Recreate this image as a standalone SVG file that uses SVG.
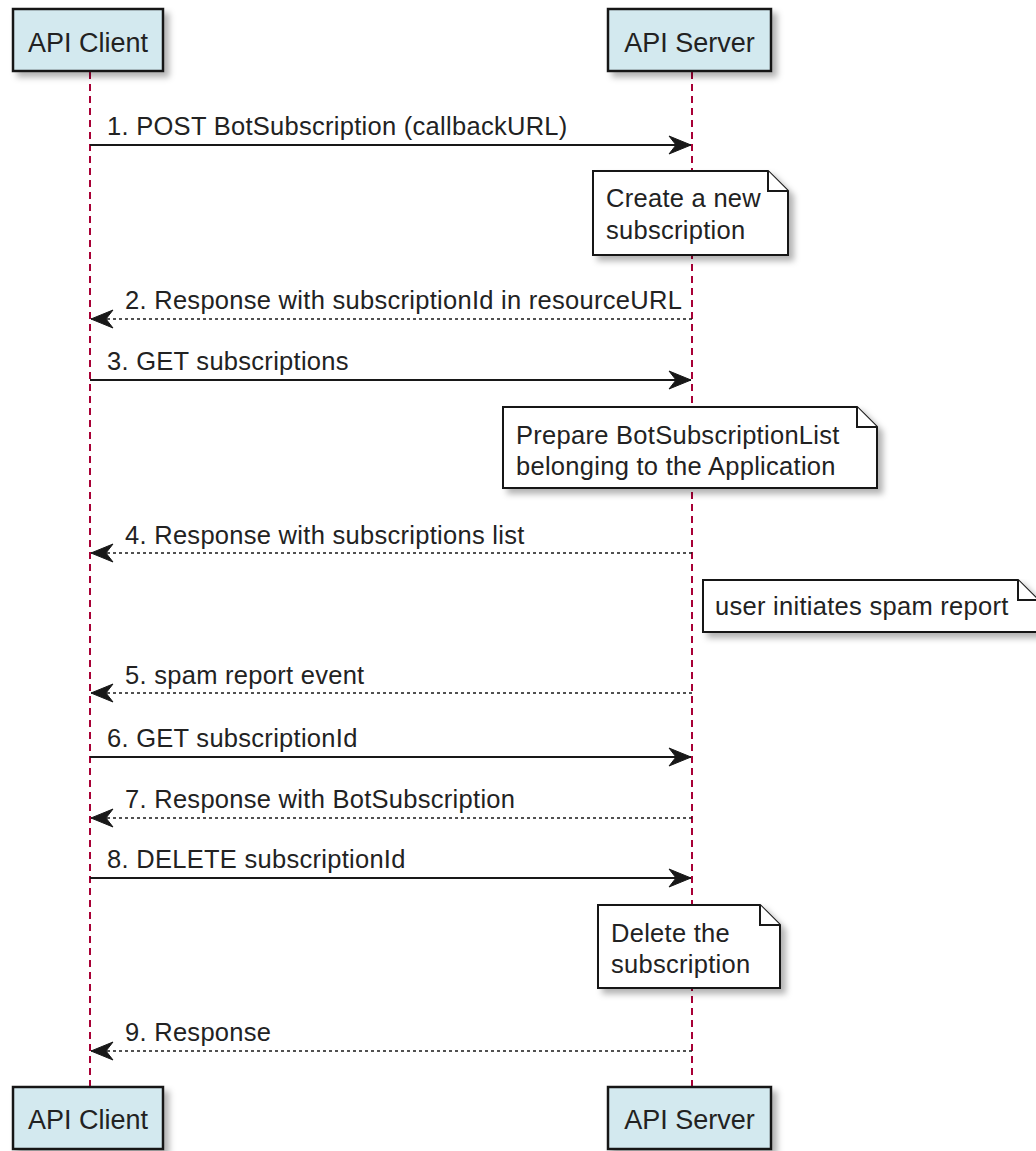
<svg xmlns="http://www.w3.org/2000/svg" width="1036" height="1151" viewBox="0 0 1036 1151">
<defs>
<filter id="sh" x="-10%" y="-10%" width="130%" height="140%">
<feGaussianBlur in="SourceAlpha" stdDeviation="3"/>
<feOffset dx="5" dy="5" result="b"/>
<feFlood flood-color="#000" flood-opacity="0.3"/>
<feComposite in2="b" operator="in"/>
<feMerge><feMergeNode/><feMergeNode in="SourceGraphic"/></feMerge>
</filter>
<marker id="ah" markerWidth="24" markerHeight="20" viewBox="0 0 24 20" refX="23" refY="10" orient="auto" markerUnits="userSpaceOnUse">
<polygon points="1,1 23,10 1,19 8,10" fill="#181818" stroke="#181818" stroke-width="1"/>
</marker>
</defs>
<style>
.part{fill:#D3E9EF;stroke:#181818;stroke-width:2.5}
.ptxt{font-family:"Liberation Sans",Arial,sans-serif;font-size:27px;fill:#222;text-anchor:middle}
.life{stroke:#A80036;stroke-width:2;stroke-dasharray:7,5;fill:none}
.msg{stroke:#181818;stroke-width:2;fill:none}
.ret{stroke:#181818;stroke-width:1.6;stroke-dasharray:3,3;fill:none}
.txt{font-family:"Liberation Sans",Arial,sans-serif;font-size:25.5px;letter-spacing:0.28px;fill:#222}
.note{fill:#FFFFFF;stroke:#181818;stroke-width:2}
</style>
<rect width="1036" height="1151" fill="#FFFFFF"/>
<g id="lifelines">
<line class="life" x1="90" y1="72" x2="90" y2="1087"/>
<line class="life" x1="692" y1="72" x2="692" y2="1087"/>
</g>
<g id="participant-client-top">
<rect class="part" x="13" y="9" width="150" height="62" filter="url(#sh)"/>
<text class="ptxt" x="88" y="52">API Client</text>
</g>
<g id="participant-server-top">
<rect class="part" x="608" y="9" width="163" height="62" filter="url(#sh)"/>
<text class="ptxt" x="689.5" y="52">API Server</text>
</g>
<g id="participant-client-bottom">
<rect class="part" x="13" y="1087" width="150" height="62" filter="url(#sh)"/>
<text class="ptxt" x="88" y="1129">API Client</text>
</g>
<g id="participant-server-bottom">
<rect class="part" x="608" y="1087" width="163" height="62" filter="url(#sh)"/>
<text class="ptxt" x="689.5" y="1129">API Server</text>
</g>
<g id="connectors">
<line class="msg" x1="90" y1="145" x2="691" y2="145" marker-end="url(#ah)"/>
<text class="txt" x="107" y="135">1. POST BotSubscription (callbackURL)</text>
<line class="ret" x1="692" y1="319" x2="91" y2="319" marker-end="url(#ah)"/>
<text class="txt" x="125" y="309">2. Response with subscriptionId in resourceURL</text>
<line class="msg" x1="90" y1="380" x2="691" y2="380" marker-end="url(#ah)"/>
<text class="txt" x="107" y="370">3. GET subscriptions</text>
<line class="ret" x1="692" y1="553" x2="91" y2="553" marker-end="url(#ah)"/>
<text class="txt" x="125" y="544">4. Response with subscriptions list</text>
<line class="ret" x1="692" y1="693" x2="91" y2="693" marker-end="url(#ah)"/>
<text class="txt" x="125" y="684">5. spam report event</text>
<line class="msg" x1="90" y1="757" x2="691" y2="757" marker-end="url(#ah)"/>
<text class="txt" x="107" y="747">6. GET subscriptionId</text>
<line class="ret" x1="692" y1="818" x2="91" y2="818" marker-end="url(#ah)"/>
<text class="txt" x="125" y="808">7. Response with BotSubscription</text>
<line class="msg" x1="90" y1="878" x2="691" y2="878" marker-end="url(#ah)"/>
<text class="txt" x="107" y="868">8. DELETE subscriptionId</text>
<line class="ret" x1="692" y1="1051" x2="91" y2="1051" marker-end="url(#ah)"/>
<text class="txt" x="125" y="1041">9. Response</text>
</g>
<g id="note-create">
<path class="note" filter="url(#sh)" d="M593,171 L768,171 L788,191 L788,255 L593,255 Z"/>
<path class="note" d="M768,171 L768,191 L788,191"/>
<text class="txt" x="606" y="207">Create a new</text>
<text class="txt" x="606" y="239">subscription</text>
</g>
<g id="note-prepare">
<path class="note" filter="url(#sh)" d="M503,407 L857,407 L877,427 L877,488 L503,488 Z"/>
<path class="note" d="M857,407 L857,427 L877,427"/>
<text class="txt" x="516" y="444">Prepare BotSubscriptionList</text>
<text class="txt" x="516" y="475">belonging to the Application</text>
</g>
<g id="note-spam">
<path class="note" filter="url(#sh)" d="M703,580 L1018,580 L1038,600 L1038,632 L703,632 Z"/>
<path class="note" d="M1018,580 L1018,600 L1038,600"/>
<text class="txt" x="715" y="615">user initiates spam report</text>
</g>
<g id="note-delete">
<path class="note" filter="url(#sh)" d="M598,905 L760,905 L780,925 L780,988 L598,988 Z"/>
<path class="note" d="M760,905 L760,925 L780,925"/>
<text class="txt" x="611" y="942">Delete the</text>
<text class="txt" x="611" y="973">subscription</text>
</g>
</svg>
